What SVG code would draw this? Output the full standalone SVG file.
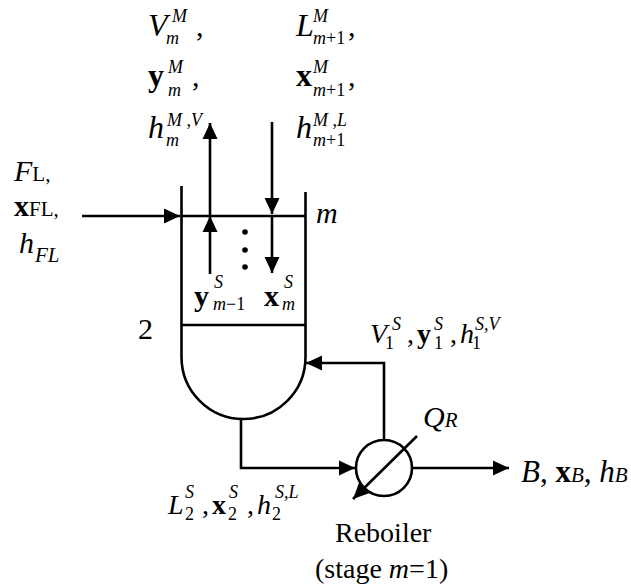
<svg xmlns="http://www.w3.org/2000/svg" width="631" height="585" viewBox="0 0 631 585">
<style>
text{font-family:"Liberation Serif","Times New Roman",serif;fill:#000;font-size:30px}
.i{font-style:italic}.b{font-weight:bold}.s{font-size:18px;font-style:italic}
.g{font-size:32px}.t{font-size:28px}.n{font-size:18px;font-style:normal}.u{font-size:21px}.r{font-size:28px}
.l{fill:none;stroke:#000;stroke-width:2.600}
</style>
<defs><marker id="a" markerUnits="userSpaceOnUse" markerWidth="17" markerHeight="18" refX="16" refY="9" orient="auto"><path d="M0 1.500L16 9L0 16.500Z"/></marker></defs>
<rect width="631" height="585" fill="#fff"/>
<g id="column" class="l"><path d="M181.500 186V357A62 62 0 0 0 305.500 357V192"/><path d="M181 216H305M181 325H305"/></g>
<g id="dots"><circle cx="245" cy="232" r="2.800"/><circle cx="245" cy="250" r="2.800"/><circle cx="245" cy="267" r="2.800"/></g>
<g id="reboiler"><circle class="l" cx="384" cy="468" r="28"/></g>
<g id="connectors" class="l">
<path d="M210 216V123" marker-end="url(#a)"/>
<path d="M272 122V214" marker-end="url(#a)"/>
<path d="M272 216V273" marker-end="url(#a)"/>
<path d="M210 274V216" marker-end="url(#a)"/>
<path d="M82 216H180" marker-end="url(#a)"/>
<path d="M241 419V468H355" marker-end="url(#a)"/>
<path d="M384 440V363H306" marker-end="url(#a)"/>
<path d="M417 436L353 499" marker-end="url(#a)"/>
<path d="M413 468H509" marker-end="url(#a)"/>
</g>
<g id="labels">
<text class="i g" x="148" y="36">V</text><text class="s" x="172" y="22">M</text><text class="s" x="166" y="44">m</text><text x="196" y="36">,</text>
<text class="i g" x="296" y="36">L</text><text class="s" x="313" y="22">M</text><text class="s" x="313" y="44">m<tspan font-style="normal">+1</tspan></text><text x="348" y="36">,</text>
<text class="b g" x="148" y="86">y</text><text class="s" x="168" y="73">M</text><text class="s" x="168" y="96">m</text><text x="192" y="86">,</text>
<text class="b g" x="296" y="86">x</text><text class="s" x="313" y="73">M</text><text class="s" x="313" y="96">m<tspan font-style="normal">+1</tspan></text><text x="348" y="86">,</text>
<text class="i g" x="148" y="138">h</text><text class="s" x="167" y="126">M ,V</text><text class="s" x="166" y="146">m</text>
<text class="i g" x="296" y="138">h</text><text class="s" x="313" y="126">M ,L</text><text class="s" x="313" y="146">m<tspan font-style="normal">+1</tspan></text>
<text class="i" x="14" y="181">F<tspan font-style="normal" class="u">L,</tspan></text>
<text class="b" x="14" y="216">x<tspan font-weight="normal" class="u">FL,</tspan></text>
<text class="i" x="19" y="253">h</text><text class="i u" x="35" y="262">FL</text>
<text class="i" x="316" y="223">m</text>
<text class="b" x="194" y="306">y</text><text class="s" x="214" y="288">S</text><text class="s" x="213" y="310">m<tspan font-style="normal">−1</tspan></text>
<text class="b" x="264" y="306">x</text><text class="s" x="284" y="288">S</text><text class="s" x="282" y="310">m</text>
<text x="138" y="339">2</text>
<text class="i t" x="370" y="343">V</text><text class="s" x="392" y="330">S</text><text class="n" x="385" y="349">1</text><text class="t" x="407" y="343">,</text>
<text class="b t" x="417" y="343">y</text><text class="s" x="434" y="330">S</text><text class="n" x="434" y="349">1</text><text class="t" x="450" y="343">,</text>
<text class="i t" x="460" y="343">h</text><text class="s" x="475" y="330">S,V</text><text class="n" x="472" y="349">1</text>
<text class="i" x="423" y="427">Q<tspan class="u">R</tspan></text>
<text class="i" x="521" y="482" style="font-size:31px">B<tspan font-style="normal">, </tspan><tspan font-style="normal" font-weight="bold">x</tspan><tspan class="u">B</tspan><tspan font-style="normal">, </tspan>h<tspan class="u">B</tspan></text>
<text class="i t" x="168" y="514">L</text><text class="s" x="185" y="498">S</text><text class="n" x="185" y="520">2</text><text class="t" x="202" y="514">,</text>
<text class="b t" x="212" y="514">x</text><text class="s" x="229" y="498">S</text><text class="n" x="228" y="520">2</text><text class="t" x="247" y="514">,</text>
<text class="i t" x="257" y="514">h</text><text class="s" x="275" y="498">S,L</text><text class="n" x="272" y="520">2</text>
<text class="r" x="335" y="542">Reboiler</text>
<text class="r" x="315" y="578">(stage <tspan class="i">m</tspan>=1)</text>
</g>
</svg>
